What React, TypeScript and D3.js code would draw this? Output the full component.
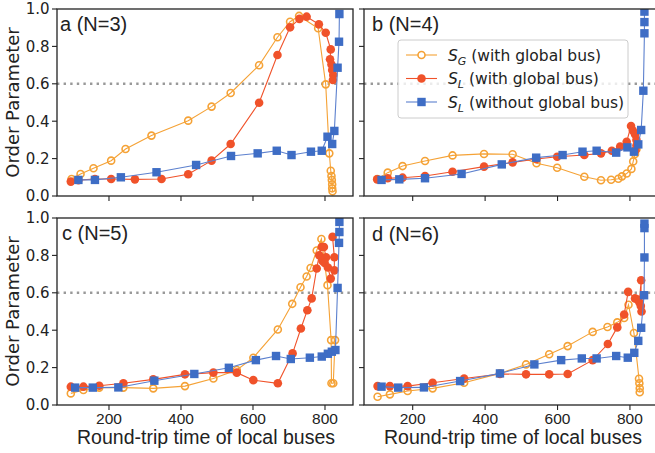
import React from 'react';
import * as d3 from 'd3';

type P = [number, number];

const xTicks = [200, 400, 600, 800];
const yTicks = [0, 0.2, 0.4, 0.6, 0.8, 1.0];
const refLevel = 0.6;
const panelLabels = ['a (N=3)', 'b (N=4)', 'c (N=5)', 'd (N=6)'];
const legendNames: [string, string, string][] = [
  ['S', 'G', ' (with global bus)'],
  ['S', 'L', ' (with global bus)'],
  ['S', 'L', ' (without global bus)'],
];
const xAxisTitle = 'Round-trip time of local buses';
const yAxisTitle = 'Order Parameter';

// Panel a (N=3)
const aSG: P[] = [[96,0.091],[121,0.118],[157,0.148],[206,0.189],[246,0.251],[318,0.323],[420,0.403],[485,0.478],[538,0.551],[617,0.699],[668,0.849],[703,0.932],[728,0.963],[781,0.897],[802,0.597],[812,0.228],[816,0.135],[818,0.107],[819,0.086],[820,0.062],[820,0.041],[821,0.025]];
const aSL: P[] = [[94,0.077],[115,0.085],[161,0.091],[206,0.091],[272,0.089],[346,0.091],[420,0.116],[485,0.189],[538,0.278],[617,0.499],[668,0.754],[703,0.902],[729,0.947],[749,0.959],[783,0.918],[802,0.873],[816,0.784],[814,0.731],[818,0.703],[820,0.674],[823,0.647],[822,0.62]];
const aSN: P[] = [[115,0.086],[161,0.086],[233,0.100],[332,0.127],[442,0.166],[539,0.214],[613,0.228],[666,0.242],[707,0.219],[761,0.237],[791,0.242],[807,0.317],[820,0.278],[826,0.348],[835,0.686],[839,0.825],[840,0.973]];

// Panel b (N=4)
const bSG: P[] = [[102,0.091],[131,0.125],[172,0.160],[234,0.187],[310,0.217],[397,0.225],[476,0.223],[542,0.175],[599,0.151],[674,0.103],[720,0.084],[748,0.087],[768,0.092],[778,0.105],[791,0.12],[804,0.145],[809,0.185],[814,0.225],[818,0.25]];
const bSL: P[] = [[102,0.089],[131,0.095],[172,0.098],[234,0.107],[310,0.130],[397,0.157],[476,0.180],[542,0.198],[599,0.210],[674,0.219],[720,0.228],[750,0.242],[773,0.264],[791,0.29],[803,0.374],[808,0.35],[814,0.33],[818,0.30],[818,0.27],[815,0.245]];
const bSN: P[] = [[114,0.086],[163,0.089],[234,0.095],[335,0.118],[446,0.169],[541,0.205],[614,0.219],[669,0.237],[708,0.242],[762,0.232],[793,0.260],[811,0.237],[823,0.276],[831,0.353],[837,0.563],[840,0.870],[840,0.93],[840,0.986]];

// Panel c (N=5)
const cSG: P[] = [[94,0.062],[129,0.080],[173,0.093],[240,0.093],[323,0.089],[411,0.101],[490,0.142],[555,0.187],[601,0.253],[669,0.404],[709,0.541],[732,0.630],[749,0.687],[760,0.733],[777,0.826],[790,0.888],[807,0.641],[817,0.347],[818,0.116],[823,0.116],[828,0.347]];
const cSL: P[] = [[94,0.098],[129,0.098],[173,0.103],[240,0.116],[323,0.137],[411,0.164],[490,0.173],[555,0.173],[601,0.133],[669,0.116],[710,0.276],[733,0.409],[751,0.507],[763,0.570],[777,0.730],[784,0.801],[791,0.845],[797,0.845],[803,0.79],[793,0.77],[799,0.76],[808,0.735],[816,0.676],[826,0.72],[826,0.79],[821,0.899]];
const cSN: P[] = [[106,0.093],[155,0.093],[226,0.094],[326,0.130],[437,0.166],[533,0.199],[608,0.240],[664,0.262],[705,0.246],[758,0.253],[791,0.259],[808,0.274],[819,0.285],[829,0.294],[835,0.626],[839,0.867],[840,0.925],[840,0.979]];

// Panel d (N=6)
const dSG: P[] = [[103,0.044],[137,0.057],[186,0.075],[255,0.089],[342,0.119],[441,0.169],[513,0.217],[577,0.271],[628,0.315],[697,0.391],[738,0.417],[765,0.442],[784,0.465],[796,0.536],[811,0.385],[825,0.140],[826,0.116],[827,0.09],[827,0.068]];
const dSL: P[] = [[103,0.101],[137,0.101],[186,0.101],[255,0.119],[342,0.142],[441,0.166],[513,0.164],[577,0.164],[628,0.166],[697,0.240],[739,0.326],[765,0.415],[784,0.484],[795,0.605],[814,0.570],[821,0.564],[826,0.55],[831,0.667],[830,0.53],[832,0.50]];
const dSN: P[] = [[114,0.098],[160,0.093],[231,0.094],[331,0.128],[441,0.169],[536,0.217],[610,0.240],[667,0.249],[708,0.249],[762,0.262],[794,0.253],[812,0.279],[823,0.343],[831,0.413],[839,0.587],[840,0.789],[840,0.946],[840,0.97]];

const ORANGE = '#F5A236';
const RED = '#F0522A';
const BLUE = '#3E6DC5';
const BLUE_LINE = '#5C80CE';
const INK = '#222';

const W = 655;
const H = 453;

interface PanelCfg {
  id: string;
  label: string;
  left: number; right: number; top: number; bottom: number;
  dom: [number, number];
  sg: P[]; sl: P[]; sn: P[];
  yLabels: boolean; xLabels: boolean; legend: boolean;
  lx: number; ly: number;
}

const panels: PanelCfg[] = [
  { id: 'a', label: panelLabels[0], left: 57, right: 353, top: 9, bottom: 196, dom: [55.6, 877.8], sg: aSG, sl: aSL, sn: aSN, yLabels: true, xLabels: false, legend: false, lx: 60, ly: 31 },
  { id: 'b', label: panelLabels[1], left: 364, right: 660, top: 9, bottom: 196, dom: [65.5, 883], sg: bSG, sl: bSL, sn: bSN, yLabels: false, xLabels: false, legend: true, lx: 372, ly: 31 },
  { id: 'c', label: panelLabels[2], left: 57, right: 353, top: 218, bottom: 405, dom: [55.6, 877.8], sg: cSG, sl: cSL, sn: cSN, yLabels: true, xLabels: true, legend: false, lx: 62, ly: 240 },
  { id: 'd', label: panelLabels[3], left: 364, right: 660, top: 218, bottom: 405, dom: [65.5, 883], sg: dSG, sl: dSL, sn: dSN, yLabels: false, xLabels: true, legend: false, lx: 372, ly: 241 },
];

const SANS = '"DejaVu Sans", sans-serif';
const ARIAL = '"Liberation Sans", Arial, sans-serif';

function Panel({ p }: { p: PanelCfg }) {
  const x = d3.scaleLinear().domain(p.dom).range([p.left, p.right]);
  const y = d3.scaleLinear().domain([0, 1]).range([p.bottom, p.top]);
  const line = d3.line<P>().x(d => x(d[0])).y(d => y(d[1]));
  const clipId = `clip-${p.id}`;
  const sq = 8.4;
  return (
    <g>
      <defs>
        <clipPath id={clipId}>
          <rect x={p.left} y={p.top} width={p.right - p.left} height={p.bottom - p.top} />
        </clipPath>
      </defs>
      <line x1={p.left} x2={p.right} y1={y(refLevel)} y2={y(refLevel)} stroke="#999" strokeWidth={2.4} strokeDasharray="2.4,4.2" />
      <g clipPath={`url(#${clipId})`}>
        <path d={line(p.sg) || ''} fill="none" stroke={ORANGE} strokeWidth={1.1} />
        {p.sg.map((d, i) => (
          <circle key={'g' + i} cx={x(d[0])} cy={y(d[1])} r={3.5} fill="none" stroke={ORANGE} strokeWidth={1.6} />
        ))}
        <path d={line(p.sl) || ''} fill="none" stroke={RED} strokeWidth={1.1} />
        {p.sl.map((d, i) => (
          <circle key={'l' + i} cx={x(d[0])} cy={y(d[1])} r={4.3} fill={RED} />
        ))}
        <path d={line(p.sn) || ''} fill="none" stroke={BLUE_LINE} strokeWidth={1.1} />
        {p.sn.map((d, i) => (
          <rect key={'n' + i} x={x(d[0]) - sq / 2} y={y(d[1]) - sq / 2} width={sq} height={sq} fill={BLUE} />
        ))}
      </g>
      <rect x={p.left} y={p.top} width={p.right - p.left} height={p.bottom - p.top} fill="none" stroke={INK} strokeWidth={1.3} />
      {yTicks.map(t => (
        <g key={'yt' + t}>
          <line x1={p.left - 5} x2={p.left} y1={y(t)} y2={y(t)} stroke={INK} strokeWidth={1.1} />
          {p.yLabels && (
            <text x={p.left - 7.5} y={y(t)} dy="0.36em" textAnchor="end" fontFamily={SANS} fontSize={15} fill={INK}>
              {d3.format('.1f')(t)}
            </text>
          )}
        </g>
      ))}
      {xTicks.map(t => (
        <g key={'xt' + t}>
          <line x1={x(t)} x2={x(t)} y1={p.bottom} y2={p.bottom + 5} stroke={INK} strokeWidth={1.1} />
          {p.xLabels && (
            <text x={x(t)} y={p.bottom + 18.5} textAnchor="middle" fontFamily={ARIAL} fontSize={15.5} fill={INK}>
              {t}
            </text>
          )}
        </g>
      ))}
      <text x={p.lx} y={p.ly} fontFamily={ARIAL} fontSize={20} fill={INK}>{p.label}</text>
      {p.xLabels && (
        <text x={(p.left + Math.min(p.right, 660)) / 2 + 1} y={444} textAnchor="middle" fontFamily={ARIAL} fontSize={19.5} fill={INK}>
          {xAxisTitle}
        </text>
      )}
      {p.yLabels && (
        <text transform={`translate(19, ${(p.top + p.bottom) / 2}) rotate(-90)`} textAnchor="middle" fontFamily={SANS} fontSize={18} fill={INK}>
          {yAxisTitle}
        </text>
      )}
      {p.legend && <Legend />}
    </g>
  );
}

function Legend() {
  const bx = 398, by = 40, bw = 230, bh = 78;
  const rows = [55, 78.5, 102];
  const colors = [ORANGE, RED, BLUE];
  return (
    <g>
      <rect x={bx} y={by} width={bw} height={bh} rx={3} fill="#fff" fillOpacity={0.8} stroke="#ccc" strokeWidth={1} />
      {rows.map((ry, i) => (
        <g key={i}>
          <line x1={406} x2={437} y1={ry} y2={ry} stroke={i === 2 ? BLUE_LINE : colors[i]} strokeWidth={1.1} />
          {i === 0 && <circle cx={421.5} cy={ry} r={3.5} fill="#fff" stroke={ORANGE} strokeWidth={1.6} />}
          {i === 1 && <circle cx={421.5} cy={ry} r={4.3} fill={RED} />}
          {i === 2 && <rect x={421.5 - 4.2} y={ry - 4.2} width={8.4} height={8.4} fill={BLUE} />}
          <text x={448} y={ry} dy="0.36em" fontFamily={SANS} fontSize={15.5} fill={INK}>
            <tspan fontStyle="italic">{legendNames[i][0]}</tspan>
            <tspan fontStyle="italic" fontSize={11} dy={4}>{legendNames[i][1]}</tspan>
            <tspan dy={-4}>{legendNames[i][2]}</tspan>
          </text>
        </g>
      ))}
    </g>
  );
}

export default function App() {
  return (
    <svg width={W} height={H} viewBox={`0 0 ${W} ${H}`} style={{ position: 'absolute', left: 0, top: 0, background: '#fff' }}>
      <rect x={0} y={0} width={W} height={H} fill="#fff" />
      {panels.map(p => <Panel key={p.id} p={p} />)}
    </svg>
  );
}
